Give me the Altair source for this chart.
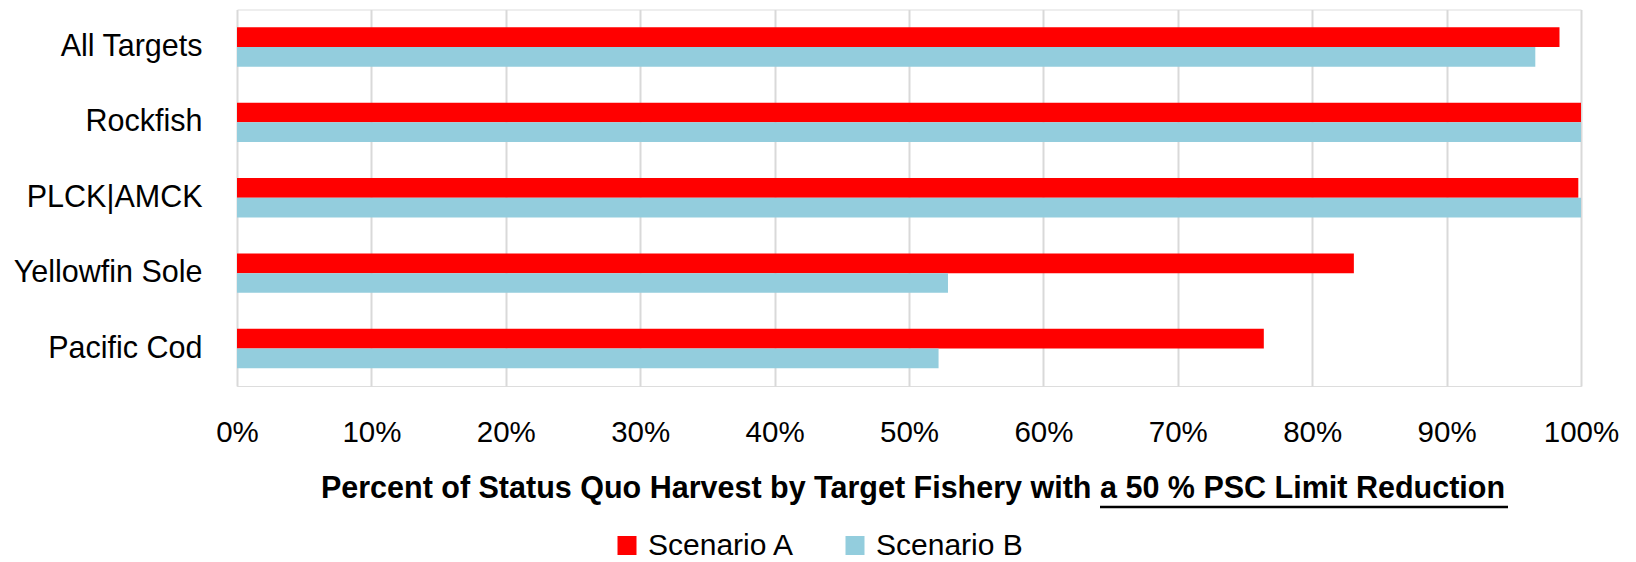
import altair as alt
import pandas as pd

categories = ["All Targets", "Rockfish", "PLCK|AMCK", "Yellowfin Sole", "Pacific Cod"]
scenario_a = [0.984, 1.000, 0.998, 0.831, 0.764]
scenario_b = [0.966, 1.000, 1.000, 0.529, 0.522]
series = ["Scenario A", "Scenario B"]
colors = ["#ff0000", "#93cddd"]
tick_values = [0, 0.1, 0.2, 0.3, 0.4, 0.5, 0.6, 0.7, 0.8, 0.9, 1.0]
title_main = "Percent of Status Quo Harvest by Target Fishery with"
title_underlined = "a 50 % PSC Limit Reduction"

FONT = "Liberation Sans, Arial, sans-serif"

rows = []
for i, c in enumerate(categories):
    rows.append({"category": c, "scenario": series[0], "value": scenario_a[i]})
    rows.append({"category": c, "scenario": series[1], "value": scenario_b[i]})
df = pd.DataFrame(rows)

W = 1344
H = 376.5

bars = alt.Chart(df).mark_bar(cornerRadius=0).encode(
    x=alt.X("value:Q",
            scale=alt.Scale(domain=[0, 1], nice=False, zero=True),
            axis=alt.Axis(values=tick_values, format=".0%", title=None,
                          grid=True, gridColor="#d9d9d9", gridWidth=2,
                          domain=False, ticks=False,
                          labelFont=FONT, labelFontSize=29.5, labelColor="#000000",
                          labelPadding=32, labelFlush=False, labelLimit=0)),
    y=alt.Y("category:N", sort=categories,
            scale=alt.Scale(paddingInner=0.477, paddingOuter=0.236),
            axis=alt.Axis(title=None, domain=False, ticks=False, grid=False,
                          labelFont=FONT, labelFontSize=30.5, labelColor="#000000",
                          labelPadding=35, labelBaseline="middle", labelLimit=0)),
    yOffset=alt.YOffset("scenario:N", sort=series,
                        scale=alt.Scale(paddingInner=0, paddingOuter=0)),
    color=alt.Color("scenario:N",
                    scale=alt.Scale(domain=series, range=colors),
                    legend=alt.Legend(title=None, orient="none",
                                      direction="horizontal",
                                      legendX=375, legendY=521,
                                      symbolType="square", symbolSize=361,
                                      symbolStrokeWidth=0, symbolOpacity=1,
                                      labelFont=FONT, labelFontSize=30,
                                      labelColor="#000000", labelOffset=6,
                                      labelLimit=0, columnPadding=45)),
)

title_df = pd.DataFrame({"text": [title_main]})
title_df2 = pd.DataFrame({"text": [title_underlined]})

t1 = alt.Chart(title_df).mark_text(
    font=FONT, fontSize=30.5, fontWeight="bold", align="right",
    baseline="alphabetic", color="#000000"
).encode(text="text:N", x=alt.value(854.5), y=alt.value(488))

t2 = alt.Chart(title_df2).mark_text(
    font=FONT, fontSize=30.5, fontWeight="bold", align="left",
    baseline="alphabetic", color="#000000"
).encode(text="text:N", x=alt.value(863), y=alt.value(488))

underline = alt.Chart(alt.Data(values=[{}])).mark_rule(
    color="#000000", strokeWidth=2.5
).encode(x=alt.value(863), x2=alt.value(1271), y=alt.value(497.5))

chart = alt.layer(bars, t1, t2, underline).properties(
    width=W, height=H,
    autosize=alt.AutoSizeParams(type="none"),
    padding={"left": 229, "top": 1.5, "right": 47, "bottom": 175},
).configure_view(stroke=None).configure(background="#ffffff")

chart.save("out.html", embed_options={"renderer": "svg", "actions": False})
